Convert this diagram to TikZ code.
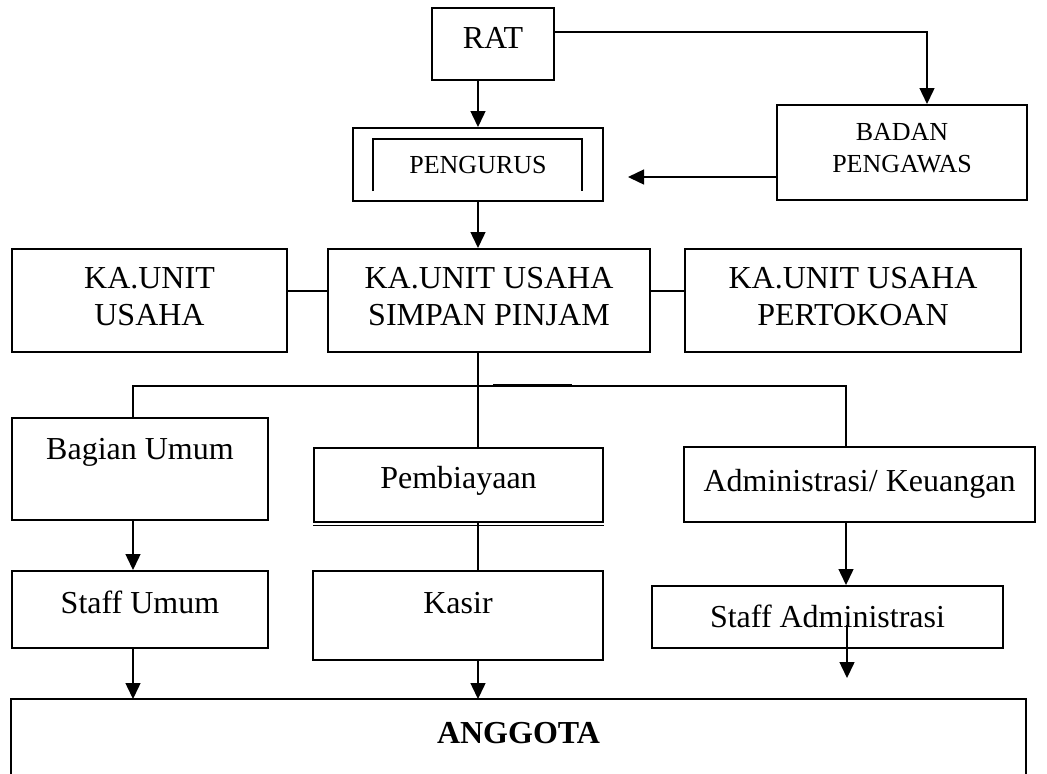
\documentclass[tikz,border=0pt]{standalone}
\usepackage{fontspec}
\setmainfont{Liberation Serif}
\usetikzlibrary{arrows.meta, positioning}
\tikzset{
x=0.5pt, y=-0.5pt, % one unit is one pixel of the page
box/.style={draw, line width=1pt, inner sep=0pt, align=center, font=\fontsize{16}{18.5}\selectfont}, % every box of the chart
small/.style={font=\fontsize{13}{16}\selectfont}, % the smaller text at the top
one/.style={text height=10.6pt, text depth=#1}, % lifts a single line of text
link/.style={line width=0.7pt}, % plain connector
arr/.style={link, -{Triangle[length=8pt, width=7.5pt]}}, % connector with a head
}
\begin{document}
\begin{tikzpicture}
\useasboundingbox (0,0) rectangle (1047,773);
\node[box, one=6pt, minimum width=61pt, minimum height=36pt] (rat) at (493,44) {RAT};
\node[box, small, text height=8.6pt, text depth=0pt, minimum width=125pt, minimum height=36.5pt] (pengurus) at (478,164.5) {PENGURUS};
\node[box, small, text depth=5pt, minimum width=125pt, minimum height=47.5pt] (badan) at (902,152.5) {BADAN\\PENGAWAS};
\node[box, text depth=4pt, minimum width=137.5pt, minimum height=51.5pt] (kuu) at (149.5,300.5) {KA.UNIT\\USAHA};
\node[box, text depth=4pt, minimum width=161pt, minimum height=51.5pt] (kusp) at (489,300.5) {KA.UNIT USAHA\\SIMPAN PINJAM};
\node[box, text depth=4pt, minimum width=168pt, minimum height=51.5pt] (kup) at (853,300.5) {KA.UNIT USAHA\\PERTOKOAN};
\node[box, one=20.5pt, minimum width=128pt, minimum height=51pt] (bagian) at (140,469) {Bagian Umum};
\node[box, one=7.5pt, minimum width=144.5pt, minimum height=37pt] (biaya) at (458.5,485) {Pembiayaan};
\node[box, one=4pt, minimum width=175.5pt, minimum height=37.5pt] (admin) at (859.5,484.5) {Administrasi/ Keuangan};
\node[box, one=7pt, minimum width=128pt, minimum height=38.5pt] (sumum) at (140,609.5) {Staff Umum};
\node[box, one=13pt, minimum width=145pt, minimum height=44.5pt] (kasir) at (458,615.5) {Kasir};
\node[box, one=0pt, minimum width=175.5pt, minimum height=31pt] (sadm) at (827.5,617) {Staff Administrasi};
\node[box, draw=none, one=3.5pt, minimum width=506.5pt, minimum height=36.5pt, font=\bfseries\fontsize{16}{18.5}\selectfont] (anggota) at (518.5,736.5) {ANGGOTA};
% inner frame of PENGURUS and the open box of ANGGOTA
\draw[line width=0.6pt] ([shift={(10.5pt,5.5pt)}]pengurus.south west) |- ([shift={(-11pt,-6pt)}]pengurus.north east) -- ([shift={(-11pt,5.5pt)}]pengurus.south east);
\draw[line width=1pt] (anggota.south west) |- (anggota.north east) -- (anggota.south east);
\draw[line width=0.5pt] ([yshift=-1.2pt]biaya.south west) -- ([yshift=-1.2pt]biaya.south east);
\coordinate (badanin) at (628,177);
\coordinate (tleft) at (133,386);
\coordinate (tright) at (846,386);
\coordinate (mark1) at (493,385);
\coordinate (mark2) at (572,385);
\coordinate (sadmin) at (847,625);
\coordinate (sadmout) at (847,678);
\draw[arr] (rat.south -| pengurus.north) -- (pengurus.north);
\draw[arr] ([yshift=6pt]rat.east) -| ([xshift=12.5pt]badan.north);
\draw[arr] ([yshift=-12.25pt]badan.west) -- (badanin);
\draw[arr] (pengurus.south) -- (pengurus.south |- kusp.north);
\draw[link] ([yshift=4.75pt]kuu.east) -- ([yshift=4.75pt]kusp.west);
\draw[link] ([yshift=4.75pt]kusp.east) -- ([yshift=4.75pt]kup.west);
\draw[link] (kusp.south -| pengurus.south) -- (biaya.north -| pengurus.south);
\draw[link] (bagian.north -| tleft) -- (tleft) -- (tright) -- (admin.north -| tright);
\draw[line width=1.2pt] (mark1) -- (mark2);
\draw[arr] (bagian.south -| tleft) -- (sumum.north -| tleft);
\draw[link] (biaya.south -| pengurus.south) -- (kasir.north -| pengurus.south);
\draw[arr] (admin.south -| tright) -- (sadm.north -| tright);
\draw[arr] (sumum.south -| tleft) -- (anggota.north -| tleft);
\draw[arr] (kasir.south -| pengurus.south) -- (anggota.north -| pengurus.south);
\draw[arr] (sadmin) -- (sadmout);
\end{tikzpicture}
\end{document}
